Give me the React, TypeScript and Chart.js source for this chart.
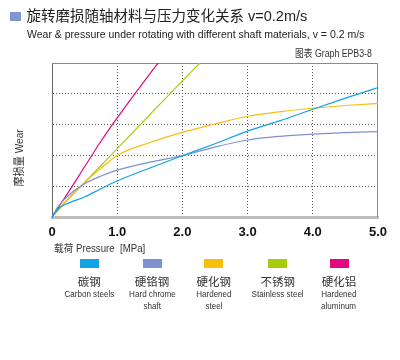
import React, { useEffect, useLayoutEffect, useRef } from "react";
import { Chart, registerables } from "chart.js";

Chart.register(...registerables);

const pressure = [0, 0.1, 0.25, 0.5, 0.75, 1.0, 1.5, 2.0, 2.5, 3.0, 3.5, 4.0, 4.5, 5.0];
const carbonSteel = [0, 0.27, 0.45, 0.65, 0.92, 1.17, 1.59, 1.99, 2.38, 2.79, 3.13, 3.5, 3.86, 4.2];
const hardChrome = [0, 0.36, 0.7, 1.08, 1.33, 1.52, 1.78, 1.99, 2.27, 2.5, 2.62, 2.69, 2.74, 2.77];
const hardenedSteel = [0, 0.25, 0.6, 1.12, 1.58, 2.0, 2.42, 2.75, 3.02, 3.27, 3.42, 3.53, 3.62, 3.69];
const stainless = [0, 0.23, 0.58, 1.12, 1.67, 2.22, 3.32, 4.42, 5.5, null, null, null, null, null];
const aluminum = [0, 0.32, 0.8, 1.63, 2.46, 3.22, 4.65, 6.0, null, null, null, null, null, null];

const seriesZh = ["碳钢", "硬铬钢", "硬化钢", "不锈钢", "硬化铝"];
const seriesEn = [["Carbon steels"], ["Hard chrome", "shaft"], ["Hardened", "steel"], ["Stainless steel"], ["Hardened", "aluminum"]];
const seriesColors = ["#12A2E6", "#7D92CF", "#F8BF10", "#A9CB0E", "#E4087F"];
const seriesValues = [carbonSteel, hardChrome, hardenedSteel, stainless, aluminum];

const xTicks = [0, 1, 2, 3, 4, 5];
const xTickLabels = ["0", "1.0", "2.0", "3.0", "4.0", "5.0"];

const titleZh = "旋转磨损随轴材料与压力变化关系 v=0.2m/s";
const subtitleEn = "Wear & pressure under rotating with different shaft materials, v = 0.2 m/s";
const graphId = "图表 Graph EPB3-8";
const yTitle = "摩损量 Wear";
const xTitle = "载荷 Pressure  [MPa]";

const FONT = '"Liberation Sans", Arial, "Noto Sans CJK SC", sans-serif';

const legendCenters = [89.3, 152, 213.7, 277.7, 339];

function FitText({
  text,
  width,
  style,
  origin = "left center",
}: {
  text: string;
  width: number;
  style: React.CSSProperties;
  origin?: string;
}) {
  const ref = useRef<HTMLSpanElement>(null);
  useLayoutEffect(() => {
    const el = ref.current;
    if (!el) return;
    const w = el.offsetWidth;
    if (w > 0) el.style.transform = `scaleX(${width / w})`;
  }, [text, width]);
  return (
    <span ref={ref} style={{ ...style, display: "inline-block", whiteSpace: "pre", transformOrigin: origin }}>
      {text}
    </span>
  );
}

const framePlugin = {
  id: "frame",
  beforeDatasetsDraw(chart: any) {
    const { ctx, chartArea } = chart;
    ctx.save();
    ctx.strokeStyle = "#8a8a8a";
    ctx.lineWidth = 1;
    ctx.beginPath();
    ctx.moveTo(chartArea.left, chartArea.top + 0.5);
    ctx.lineTo(chartArea.right, chartArea.top + 0.5);
    ctx.moveTo(Math.round(chartArea.right) - 0.5, chartArea.top);
    ctx.lineTo(Math.round(chartArea.right) - 0.5, chartArea.bottom);
    ctx.stroke();
    ctx.restore();
  },
};

export default function App() {
  const canvasRef = useRef<HTMLCanvasElement>(null);

  useEffect(() => {
    if (!canvasRef.current) return;
    const datasets = seriesValues.map((vals, i) => ({
      label: seriesZh[i],
      data: pressure
        .map((x, j) => ({ x, y: vals[j] }))
        .filter((p) => p.y !== null) as { x: number; y: number }[],
      borderColor: seriesColors[i],
      backgroundColor: seriesColors[i],
      borderWidth: 1.2,
      pointRadius: 0,
      fill: false,
      cubicInterpolationMode: "monotone" as const,
    }));
    const gridColor = (ctx: any) => {
      const v = ctx.tick ? ctx.tick.value : 0;
      return v === 0 || v === 5 ? "rgba(0,0,0,0)" : "#555";
    };
    const chart = new Chart(canvasRef.current, {
      type: "line",
      data: { datasets },
      plugins: [framePlugin],
      options: {
        animation: false,
        responsive: false,
        maintainAspectRatio: false,
        devicePixelRatio: 1,
        layout: { padding: { top: 63, right: 22, left: 0, bottom: 0 } },
        plugins: { legend: { display: false }, tooltip: { enabled: false }, title: { display: false } },
        scales: {
          x: {
            type: "linear",
            min: 0,
            max: 5,
            afterBuildTicks: (s: any) => {
              s.ticks = xTicks.map((v) => ({ value: v }));
            },
            afterFit: (s: any) => {
              s.height = 143;
            },
            ticks: {
              autoSkip: false,
              maxRotation: 0,
              padding: 8,
              color: "#111",
              font: { family: FONT, size: 13, weight: "bold" },
              callback: (v: any) => xTickLabels[xTicks.indexOf(Number(v))] ?? "",
            },
            grid: { color: gridColor, lineWidth: 1, drawTicks: false },
            border: { display: true, color: "#bcbcbc", width: 3, dash: [1, 2] },
          },
          y: {
            type: "linear",
            min: 0,
            max: 5,
            ticks: { display: false, stepSize: 1 },
            afterFit: (s: any) => {
              s.width = 52;
            },
            grid: { color: gridColor, lineWidth: 1, drawTicks: false },
            border: { display: true, color: "#666", width: 1, dash: [1, 2] },
          },
        },
      } as any,
    });
    return () => chart.destroy();
  }, []);

  const abs = (o: React.CSSProperties): React.CSSProperties => ({ position: "absolute", ...o });

  return (
    <div style={abs({ left: 0, top: 0, width: 400, height: 360, background: "#fff", overflow: "hidden", fontFamily: FONT })}>
      <canvas ref={canvasRef} width={400} height={360} style={abs({ left: 0, top: 0, width: 400, height: 360 })} />
      <div style={abs({ left: 10, top: 12, width: 10.5, height: 8.5, background: "#7F96D2" })} />
      <div style={abs({ left: 26.5, top: 8.5, fontSize: 14.5, lineHeight: "14.5px", color: "#222", whiteSpace: "nowrap" })}>
        {titleZh}
      </div>
      <div style={abs({ left: 26.7, top: 28.5, lineHeight: "11.5px", fontSize: 11.5 })}>
        <FitText text={subtitleEn} width={337} style={{ fontSize: 11.5, color: "#222" }} />
      </div>
      <div style={abs({ left: 295, top: 48.5, lineHeight: "10px", fontSize: 10 })}>
        <FitText text={graphId} width={77} style={{ fontSize: 10, color: "#333" }} />
      </div>
      <div
        style={abs({
          left: 18.5 - 40,
          top: 158 - 6,
          width: 80,
          height: 12,
          fontSize: 11,
          lineHeight: "12px",
          textAlign: "center",
          transform: "rotate(-90deg)",
          transformOrigin: "50% 50%",
        })}
      >
        <FitText text={yTitle} width={57} origin="center center" style={{ fontSize: 11, color: "#333" }} />
      </div>
      <div style={abs({ left: 53.5, top: 242.5, lineHeight: "10.5px", fontSize: 10.5 })}>
        <FitText text={xTitle} width={91} style={{ fontSize: 10.5, color: "#333" }} />
      </div>
      {seriesZh.map((zh, i) => (
        <div key={zh} style={abs({ left: legendCenters[i] - 40, top: 259, width: 80, textAlign: "center" })}>
          <div style={{ width: 19, height: 9, margin: "0 auto", background: seriesColors[i] }} />
          <div style={{ marginTop: 8, fontSize: 11.5, height: 12, lineHeight: "12px", color: "#333", whiteSpace: "nowrap" }}>{zh}</div>
          {seriesEn[i].map((line) => (
            <div key={line} style={{ fontSize: 9.5, lineHeight: "11.7px", height: 11.7, whiteSpace: "nowrap" }}>
              <span
                style={{
                  display: "inline-block",
                  fontSize: 9.5,
                  color: "#333",
                  transform: "scaleX(0.85)",
                  transformOrigin: "center center",
                }}
              >
                {line}
              </span>
            </div>
          ))}
        </div>
      ))}
    </div>
  );
}
